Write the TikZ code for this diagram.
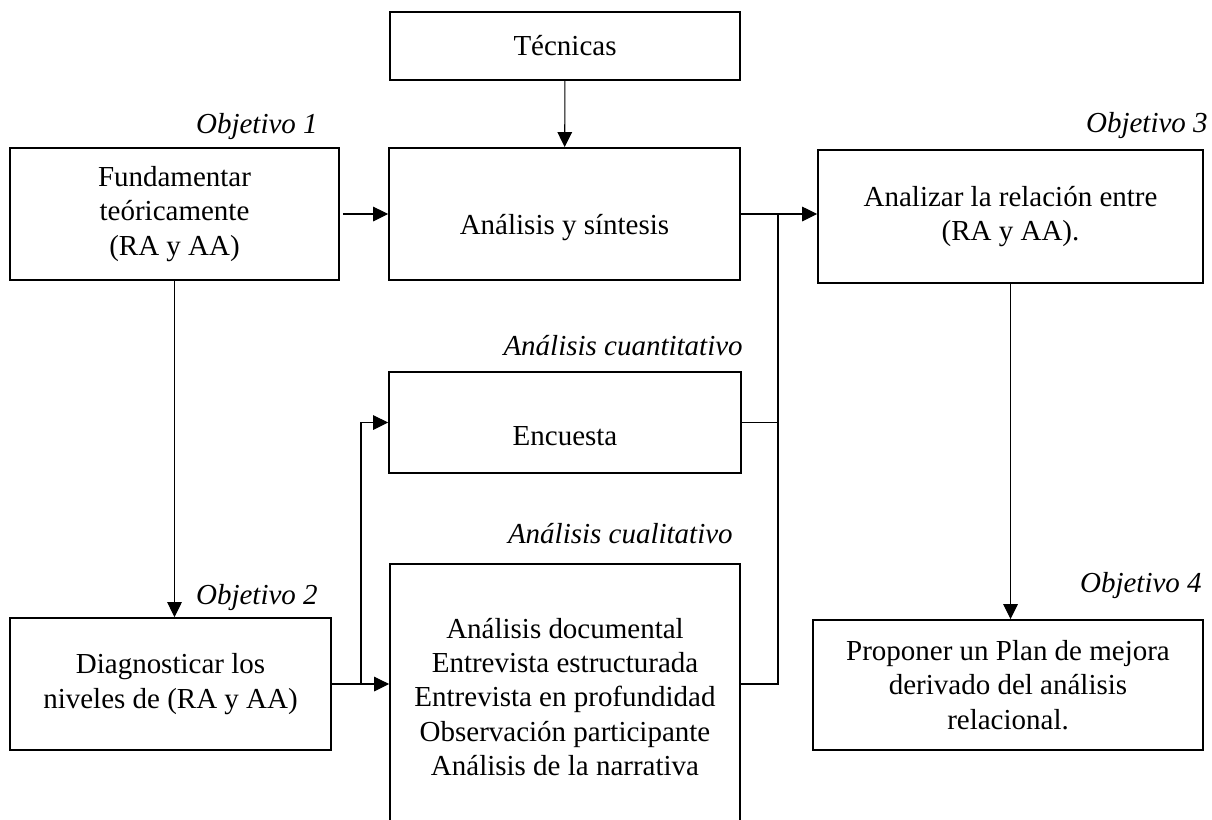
\documentclass[tikz,border=0pt]{standalone}
\usepackage{fontspec}
\setmainfont{Liberation Serif}
\usetikzlibrary{arrows.meta}

\tikzset{
  caja/.style={draw,line width=1.1pt,align=center,inner sep=2pt,
    font=\fontsize{16.5}{19.5}\selectfont},
  abajo/.style={text height=#1,text depth=0pt},
  rotulo/.style={anchor=base east,inner sep=0pt,
    font=\fontsize{16.5}{19.5}\selectfont\itshape},
  flecha/.style={line width=0.6pt},
}

\begin{document}
\begin{tikzpicture}[x=0.02cm,y=-0.02cm,>={Triangle[length=8.5pt,width=8.3pt]}]
\useasboundingbox (0,0) rectangle (1212,819);

% cajas
\node[caja,minimum width=7cm,minimum height=1.36cm] (tec) at (565,46) {Técnicas};
\node[caja,minimum width=6.58cm,minimum height=2.64cm] (fund) at (174.5,214)
  {Fundamentar\\teóricamente\\(RA y AA)};
\node[caja,abajo=0.82cm,minimum width=7.02cm,minimum height=2.64cm] (sint) at (564.5,214)
  {Análisis y síntesis};
\node[caja,minimum width=7.7cm,minimum height=2.66cm] (anal) at (1010.5,216.5)
  {Analizar la relación entre\\(RA y AA).};
\node[caja,abajo=0.9cm,minimum width=7.04cm,minimum height=2.02cm] (enc) at (565,422.5)
  {Encuesta};
\node[caja,minimum width=7cm,minimum height=5.32cm] (cual) at (565,697)
  {Análisis documental\\Entrevista estructurada\\Entrevista en profundidad\\Observación participante\\Análisis de la narrativa};
\node[caja,minimum width=6.42cm,minimum height=2.64cm] (diag) at (170.5,684)
  {Diagnosticar los\\niveles de (RA y AA)};
\node[caja,minimum width=7.8cm,minimum height=2.6cm] (prop) at (1008,685)
  {Proponer un Plan de mejora\\derivado del análisis\\relacional.};

% rotulos
\node[rotulo] (obj1) at (318,133) {Objetivo 1};
\node[rotulo] (obj2) at (318,604) {Objetivo 2};
\node[rotulo] (obj3) at (1208,132) {Objetivo 3};
\node[rotulo] (obj4) at (1202,592) {Objetivo 4};
\node[rotulo] (cuant) at (743,355) {Análisis cuantitativo};
\node[rotulo] (cualt) at (733,543) {Análisis cualitativo};

\coordinate (jl) at (361,684);
\coordinate (jr) at (778,684);

% conectores
\draw[flecha,->] (tec) -- (sint);
\draw[flecha,->,shorten <=0.06cm] (fund.east) -- (fund.east -| sint.west);
\draw[flecha,->] (sint.east) -- (sint.east -| anal.west);
\draw[flecha,->] (fund.south) -- (fund.south |- diag.north);
\draw[flecha,->] (anal.south) -- (anal.south |- prop.north);
\draw[flecha,->] (diag.east) -- (diag.east -| cual.west);
\draw[flecha,->] (jl) |- (enc.west);
\draw[flecha] (diag.east -| cual.east) -- (jr) -- (jr |- sint.east);
\draw[flecha] (enc.east) -- (enc.east -| jr);
\end{tikzpicture}
\end{document}
